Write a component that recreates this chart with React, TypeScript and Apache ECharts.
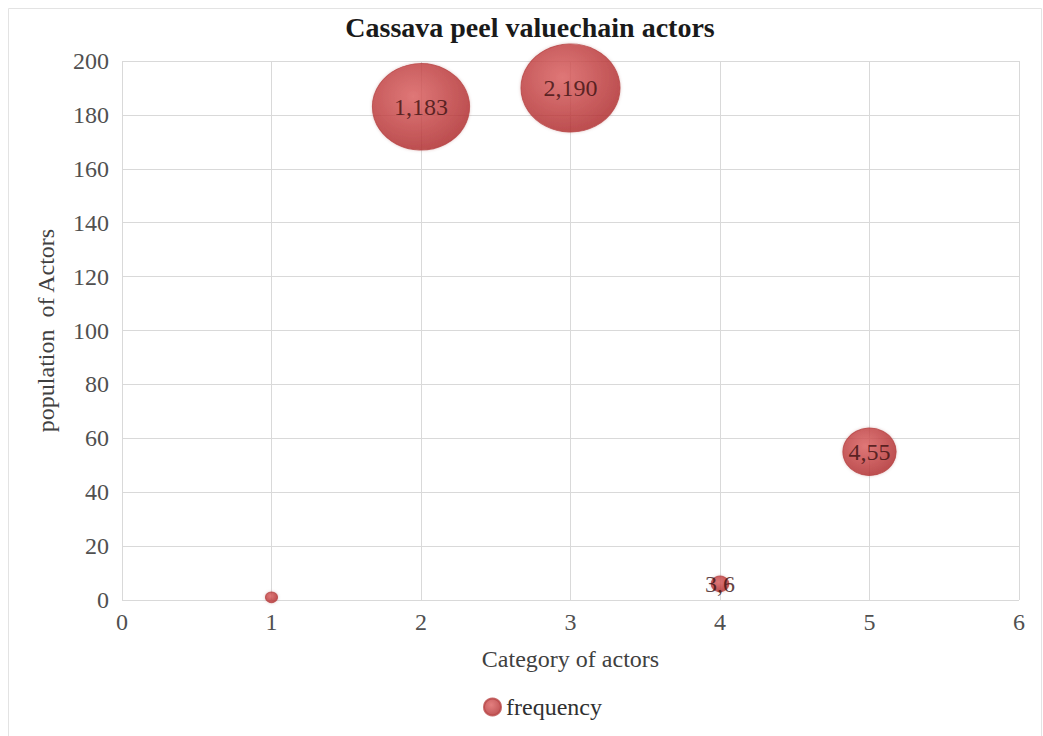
import React, { useEffect, useRef } from "react";
import * as echarts from "echarts";

const xValues = [1, 2, 3, 4, 5];
const yValues = [1, 183, 190, 6, 55];
const bubbleSizes = [1, 183, 190, 6, 55];
const pointLabels = ["", "1,183", "2,190", "3,6", "4,55"];
const seriesName = "frequency";
const titleText = "Cassava peel valuechain actors";
const xAxisName = "Category of actors";
const yAxisName = "population  of Actors";

const SERIF = "'Liberation Serif', 'Times New Roman', serif";

export default function App() {
  const ref = useRef<HTMLDivElement>(null);

  useEffect(() => {
    document.body.style.margin = "0";
    const chart = echarts.init(ref.current!, null, { renderer: "svg" });
    const maxSize = Math.max(...bubbleSizes);
    const data = xValues.map((x, i) => [x, yValues[i], bubbleSizes[i], pointLabels[i]]);
    const fill = new echarts.graphic.RadialGradient(0.42, 0.38, 0.65, [
      { offset: 0, color: "#dc5f5f" },
      { offset: 1, color: "#b02a2c" },
    ]);
    chart.setOption({
      animation: false,
      backgroundColor: "#ffffff",
      title: {
        text: titleText,
        left: 525,
        textAlign: "center",
        top: 8,
        textStyle: { fontFamily: SERIF, fontSize: 28, fontWeight: "bold", color: "#1a1a1a" },
      },
      graphic: [
        {
          type: "rect",
          shape: { x: 8.5, y: 8.5, width: 1033, height: 760 },
          style: { fill: "none", stroke: "#e3e3e3", lineWidth: 1 },
          silent: true,
          z: -1,
        },
      ],
      grid: { left: 122, right: 24, top: 61, bottom: 136, containLabel: false },
      xAxis: {
        type: "value",
        min: 0,
        max: 6,
        interval: 1,
        name: xAxisName,
        nameLocation: "middle",
        nameGap: 47,
        nameTextStyle: { fontFamily: SERIF, fontSize: 24, color: "#404040" },
        axisLine: { show: false },
        axisTick: { show: false },
        axisLabel: { fontFamily: SERIF, fontSize: 24, color: "#505050", margin: 10 },
        splitLine: { show: true, lineStyle: { color: "#d9d9d9", width: 1 } },
      },
      yAxis: {
        type: "value",
        min: 0,
        max: 200,
        interval: 20,
        name: yAxisName,
        nameLocation: "middle",
        nameGap: 64,
        nameTextStyle: { fontFamily: SERIF, fontSize: 24, color: "#404040" },
        axisLine: { show: false },
        axisTick: { show: false },
        axisLabel: { fontFamily: SERIF, fontSize: 24, color: "#505050", margin: 13 },
        splitLine: { show: true, lineStyle: { color: "#d9d9d9", width: 1 } },
      },
      legend: {
        data: [{ name: seriesName, icon: "circle" }],
        bottom: 12,
        left: 478,
        itemWidth: 17,
        itemHeight: 17,
        itemGap: 4,
        textStyle: { fontFamily: SERIF, fontSize: 24, color: "#303030" },
      },
      series: [
        {
          name: seriesName,
          type: "scatter",
          data,
          symbol: "circle",
          symbolSize: (val: any[]) => {
            const w = Math.max(12, 99 * Math.sqrt(val[2] / maxSize));
            return [w, w * 0.89];
          },
          itemStyle: {
            color: fill,
            borderColor: "#b84545",
            borderWidth: 1,
            shadowBlur: 3,
            shadowColor: "rgba(120,20,20,0.25)",
          },
          label: {
            show: true,
            position: "inside",
            formatter: (p: any) => p.data[3],
            fontFamily: SERIF,
            fontSize: 24,
            color: "#3a1010",
          },
        },
      ],
    });
    return () => chart.dispose();
  }, []);

  return <div ref={ref} style={{ width: 1043, height: 736 }} />;
}
